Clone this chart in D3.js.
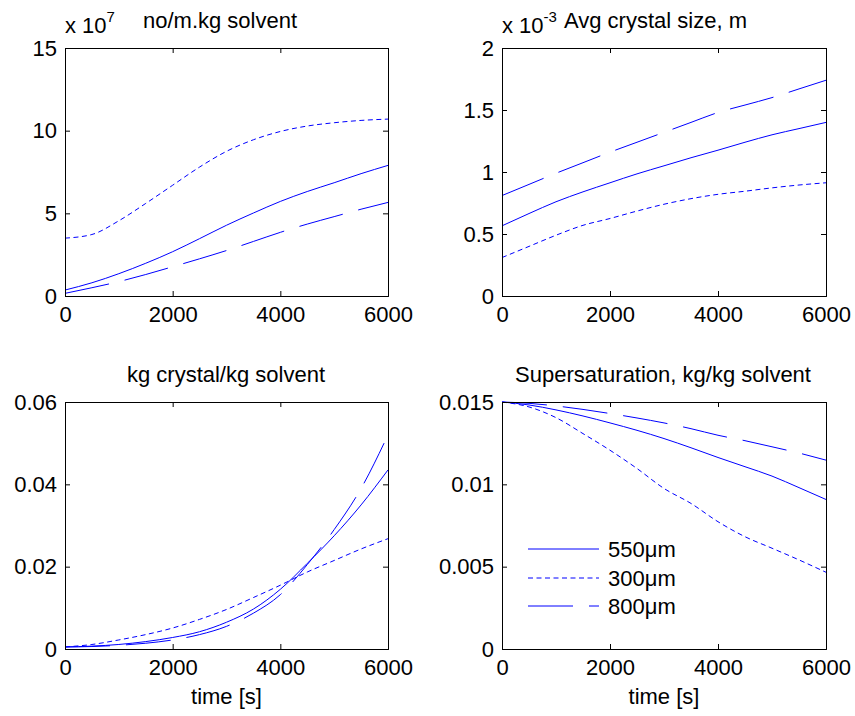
<!DOCTYPE html>
<html>
<head>
<meta charset="utf-8">
<script src="https://cdn.jsdelivr.net/npm/d3@7"></script>
<style>
  body { margin: 0; background: #fff; }
  svg { font-family: "Liberation Sans", Arial, sans-serif; }
</style>
</head>
<body>
<svg width="855" height="716"></svg>
<script>
// time axis (s)
var time = [0, 500, 1000, 1500, 2000, 2500, 3000, 3500, 4000, 4500, 5000, 5500, 6000];
var seriesNames = ["550\u03bcm", "300\u03bcm", "800\u03bcm"];

// no/m.kg solvent (x 1e7)
var count550 = [0.36, 0.8, 1.35, 1.98, 2.68, 3.47, 4.28, 5.02, 5.72, 6.32, 6.85, 7.4, 7.9];
var count300 = [3.5, 3.72, 4.55, 5.6, 6.7, 7.8, 8.75, 9.45, 9.95, 10.28, 10.48, 10.62, 10.7];
var count800 = [0.16, 0.5, 0.87, 1.3, 1.77, 2.25, 2.75, 3.3, 3.85, 4.35, 4.8, 5.25, 5.66];

// avg crystal size (x 1e-3 m)
var size550 = [0.566, 0.665, 0.76, 0.84, 0.913, 0.985, 1.05, 1.115, 1.176, 1.24, 1.30, 1.35, 1.40];
var size300 = [0.31, 0.40, 0.49, 0.57, 0.625, 0.685, 0.74, 0.785, 0.82, 0.845, 0.872, 0.895, 0.913];
var size800 = [0.81, 0.9, 0.99, 1.075, 1.16, 1.24, 1.32, 1.40, 1.48, 1.54, 1.6, 1.67, 1.74];

// kg crystal/kg solvent
var mass550 = [0.0005, 0.0007, 0.0011, 0.0018, 0.0028, 0.0042, 0.0065, 0.0097, 0.0145, 0.0208, 0.0275, 0.035, 0.0435];
var mass300 = [0.0005, 0.0011, 0.0022, 0.0035, 0.0051, 0.0072, 0.0096, 0.0125, 0.0155, 0.0187, 0.0215, 0.0243, 0.0268];
var mass800 = [0.0005, 0.0006, 0.0009, 0.0014, 0.0022, 0.0035, 0.0055, 0.0087, 0.0132, 0.0205, 0.029, 0.039, 0.052];

// supersaturation kg/kg solvent
var super550 = [0.015, 0.01482, 0.01452, 0.01415, 0.01373, 0.01328, 0.01278, 0.01222, 0.01163, 0.01107, 0.0105, 0.0098, 0.00908];
var super300 = [0.015, 0.0147, 0.01405, 0.01308, 0.01207, 0.01096, 0.00975, 0.00884, 0.00773, 0.00682, 0.00612, 0.00541, 0.00466];
var super800 = [0.015, 0.01492, 0.01476, 0.01455, 0.0143, 0.01403, 0.01373, 0.01338, 0.01298, 0.01265, 0.01228, 0.0119, 0.01147];

var xTicks = [0, 2000, 4000, 6000];

var svg = d3.select("svg");
var fontSize = 22;
var dashes = [null, "5,3.5", "45,16"];

function panel(opts) {
    var x = d3.scaleLinear().domain([0, 6000]).range([opts.left, opts.right]);
    var y = d3.scaleLinear().domain(opts.yDomain).range([opts.bottom, opts.top]);
    var g = svg.append("g");

    // lines
    var line = d3.line()
        .x(function (d, i) { return x(time[i]); })
        .y(function (d) { return y(d); })
        .curve(d3.curveMonotoneX);
    opts.series.forEach(function (s, i) {
        g.append("path")
            .attr("d", line(s))
            .attr("fill", "none")
            .attr("stroke", "#0000ff")
            .attr("stroke-width", 1)
            .attr("stroke-dasharray", dashes[i]);
    });

    // axes, ticks inward on all sides
    var fmt = opts.fmt || function (d) { return d; };
    var bottomAxis = d3.axisBottom(x).tickValues(xTicks).tickSize(-5).tickPadding(10).tickFormat(d3.format("d"));
    var topAxis = d3.axisTop(x).tickValues(xTicks).tickSize(-5).tickFormat("");
    var leftAxis = d3.axisLeft(y).tickValues(opts.yTicks).tickSize(-5).tickPadding(8).tickFormat(fmt);
    var rightAxis = d3.axisRight(y).tickValues(opts.yTicks).tickSize(-5).tickFormat("");

    [
        [bottomAxis, "translate(0," + opts.bottom + ")"],
        [topAxis, "translate(0," + opts.top + ")"],
        [leftAxis, "translate(" + opts.left + ",0)"],
        [rightAxis, "translate(" + opts.right + ",0)"]
    ].forEach(function (a) {
        var ag = g.append("g").attr("transform", a[1]).call(a[0]);
        ag.select(".domain").attr("stroke", "#000").attr("stroke-width", 1);
        ag.selectAll(".tick line").attr("stroke", "#000");
        ag.selectAll("text").attr("font-size", fontSize).attr("font-family", "Liberation Sans, Arial").attr("fill", "#000");
    });

    // title
    if (opts.title) {
        g.append("text")
            .attr("x", opts.titleX)
            .attr("y", opts.titleY)
            .attr("text-anchor", opts.titleAnchor || "middle")
            .attr("font-size", fontSize)
            .text(opts.title);
    }
    // exponent
    if (opts.exp) {
        var t = g.append("text")
            .attr("x", opts.left)
            .attr("y", opts.top - 15)
            .attr("font-size", fontSize);
        t.append("tspan").text("x 10");
        t.append("tspan").attr("dy", -11).attr("font-size", 15).text(opts.exp);
    }
    if (opts.xlabel) {
        g.append("text")
            .attr("x", (opts.left + opts.right) / 2)
            .attr("y", opts.bottom + 55)
            .attr("text-anchor", "middle")
            .attr("font-size", fontSize)
            .text(opts.xlabel);
    }
    return { x: x, y: y, g: g };
}

panel({
    left: 65, right: 388, top: 48, bottom: 296,
    yDomain: [0, 15], yTicks: [0, 5, 10, 15],
    series: [count550, count300, count800],
    title: "no/m.kg solvent", titleX: 143, titleY: 28, titleAnchor: "start",
    exp: "7"
});

panel({
    left: 502, right: 826, top: 48, bottom: 296,
    yDomain: [0, 2], yTicks: [0, 0.5, 1, 1.5, 2],
    series: [size550, size300, size800],
    title: "Avg crystal size, m", titleX: 564, titleY: 28, titleAnchor: "start",
    exp: "-3"
});

panel({
    left: 65, right: 388, top: 402, bottom: 649,
    yDomain: [0, 0.06], yTicks: [0, 0.02, 0.04, 0.06],
    series: [mass550, mass300, mass800],
    title: "kg crystal/kg solvent", titleX: 226, titleY: 382,
    xlabel: "time [s]"
});

panel({
    left: 502, right: 826, top: 402, bottom: 649,
    yDomain: [0, 0.015], yTicks: [0, 0.005, 0.01, 0.015],
    series: [super550, super300, super800],
    title: "Supersaturation, kg/kg solvent", titleX: 663, titleY: 382,
    xlabel: "time [s]"
});

// legend
var legendRows = [549, 578, 606];
var legend = svg.append("g").attr("transform", "translate(528,0)");
seriesNames.forEach(function (name, i) {
    var row = legend.append("g").attr("transform", "translate(0," + legendRows[i] + ")");
    row.append("line")
        .attr("x1", 0).attr("x2", 71).attr("y1", 0).attr("y2", 0)
        .attr("stroke", "#0000ff").attr("stroke-width", 1)
        .attr("stroke-dasharray", dashes[i]);
    row.append("text")
        .attr("x", 80).attr("y", 8)
        .attr("font-size", fontSize)
        .text(name);
});
</script>
</body>
</html>
